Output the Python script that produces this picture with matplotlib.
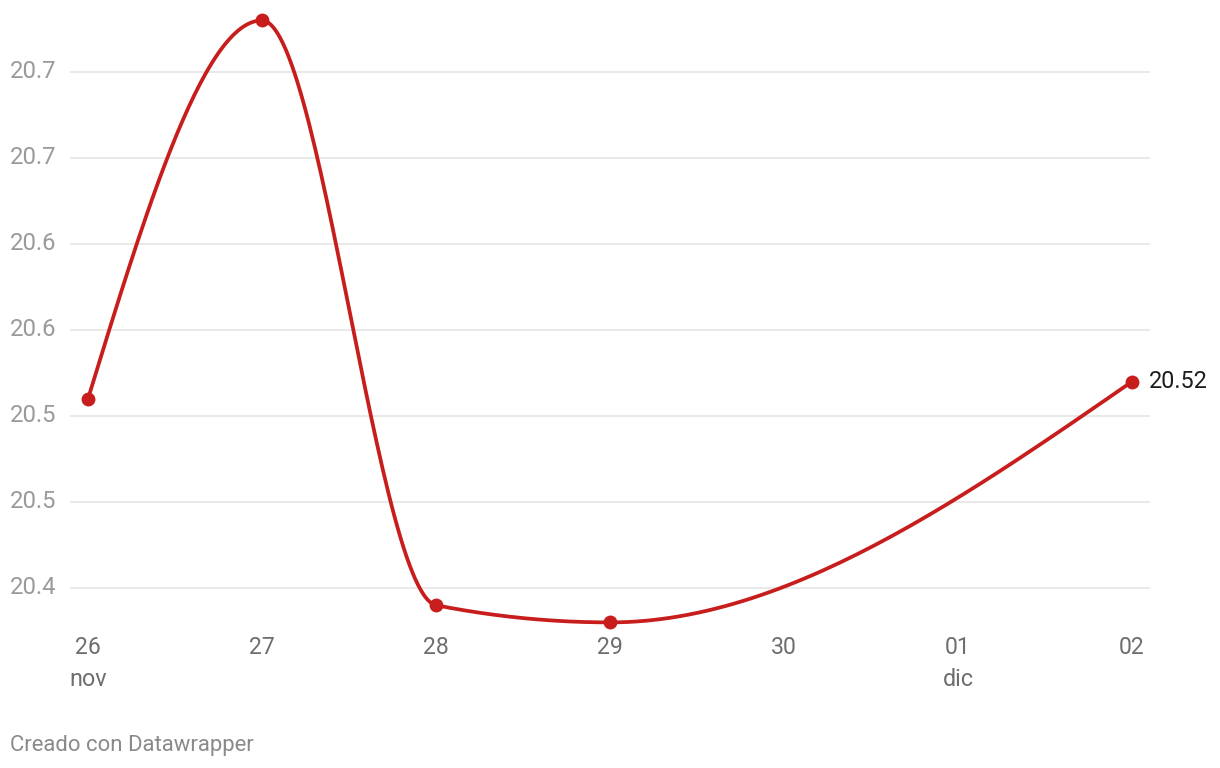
import numpy as np
import matplotlib
matplotlib.use("Agg")
import matplotlib.pyplot as plt

plt.rcParams['font.family'] = ['Roboto', 'DejaVu Sans']

# Data
day_pos = [0, 1, 2, 3, 6]                    # days since 26 nov
values = [20.51, 20.73, 20.39, 20.38, 20.52]
tick_days = [0, 1, 2, 3, 4, 5, 6]
tick_labels = ["26", "27", "28", "29", "30", "01", "02"]
month_labels = {0: "nov", 5: "dic"}
ytick_vals = [20.40, 20.45, 20.50, 20.55, 20.60, 20.65, 20.70]
ytick_labels = ["20.4", "20.5", "20.5", "20.6", "20.6", "20.7", "20.7"]
last_label = "20.52"

RED = "#c71e1d"

def monotone_x(x, y, n=60):
    x = np.asarray(x, float); y = np.asarray(y, float)
    m = len(x)
    h = np.diff(x)
    s = np.diff(y) / h
    t = np.zeros(m)
    for i in range(1, m - 1):
        s0, s1 = s[i - 1], s[i]
        p = (s0 * h[i] + s1 * h[i - 1]) / (h[i - 1] + h[i])
        t[i] = (np.sign(s0) + np.sign(s1)) * min(abs(s0), abs(s1), 0.5 * abs(p))
    t[0] = (3 * s[0] - t[1]) / 2
    t[-1] = (3 * s[-1] - t[-2]) / 2
    xs, ys = [], []
    for i in range(m - 1):
        x0, x1 = x[i], x[i + 1]
        dx = h[i] / 3
        P0 = (x0, y[i]); P1 = (x0 + dx, y[i] + dx * t[i])
        P2 = (x1 - dx, y[i + 1] - dx * t[i + 1]); P3 = (x1, y[i + 1])
        u = np.linspace(0, 1, n)
        bx = (1-u)**3*P0[0] + 3*(1-u)**2*u*P1[0] + 3*(1-u)*u**2*P2[0] + u**3*P3[0]
        by = (1-u)**3*P0[1] + 3*(1-u)**2*u*P1[1] + 3*(1-u)*u**2*P2[1] + u**3*P3[1]
        xs.extend(bx); ys.extend(by)
    return np.array(xs), np.array(ys)

W, H = 1220, 768
fig = plt.figure(figsize=(W / 100, H / 100), dpi=100)
ax = fig.add_axes([0, 0, 1, 1])
ax.set_axis_off()

# pixel mapping
x0px, xstep = 88, 174
y0px, ypx_per = 588, 1720  # 20.40 at 588 px, 1720 px per unit
ax.set_xlim(-x0px / xstep, (W - x0px) / xstep)
ax.set_ylim(20.40 - (H - y0px) / ypx_per, 20.40 + y0px / ypx_per)

def px2x(px):
    return (px - x0px) / xstep

def py2y(py):
    return 20.40 + (y0px - py) / ypx_per

# gridlines
for v, lab in zip(ytick_vals, ytick_labels):
    ax.plot([px2x(70), px2x(1150)], [v, v], color="#e3e3e3", lw=1.1, zorder=1,
            solid_capstyle="butt")
    ax.text(px2x(10), v, lab, ha="left", va="center", fontsize=17.2,
            color="#9a9a9a", zorder=3)

# x tick labels
for d, lab in zip(tick_days, tick_labels):
    ax.text(d, py2y(648), lab, ha="center", va="center", fontsize=16.6, color="#6e6e6e")
    if d in month_labels:
        ax.text(d, py2y(679), month_labels[d], ha="center", va="center",
                fontsize=16.8, color="#6e6e6e")

# line
cx, cy = monotone_x(day_pos, values)
ax.plot(cx, cy, color=RED, lw=2.7, zorder=4, solid_capstyle="round",
        solid_joinstyle="round")
ax.plot(day_pos, values, "o", color=RED, ms=10, zorder=5, markeredgewidth=0)

ax.text(day_pos[-1] + px2x(1149) - px2x(1132), values[-1], last_label,
        ha="left", va="center", fontsize=16.8, color="#1d1d1d", zorder=5)

fig.text(10 / W, 1 - 746 / H, "Creado con Datawrapper", ha="left", va="center",
         fontsize=15.9, color="#8a8a8a")

fig.savefig("out.png", dpi=100, facecolor="white")
